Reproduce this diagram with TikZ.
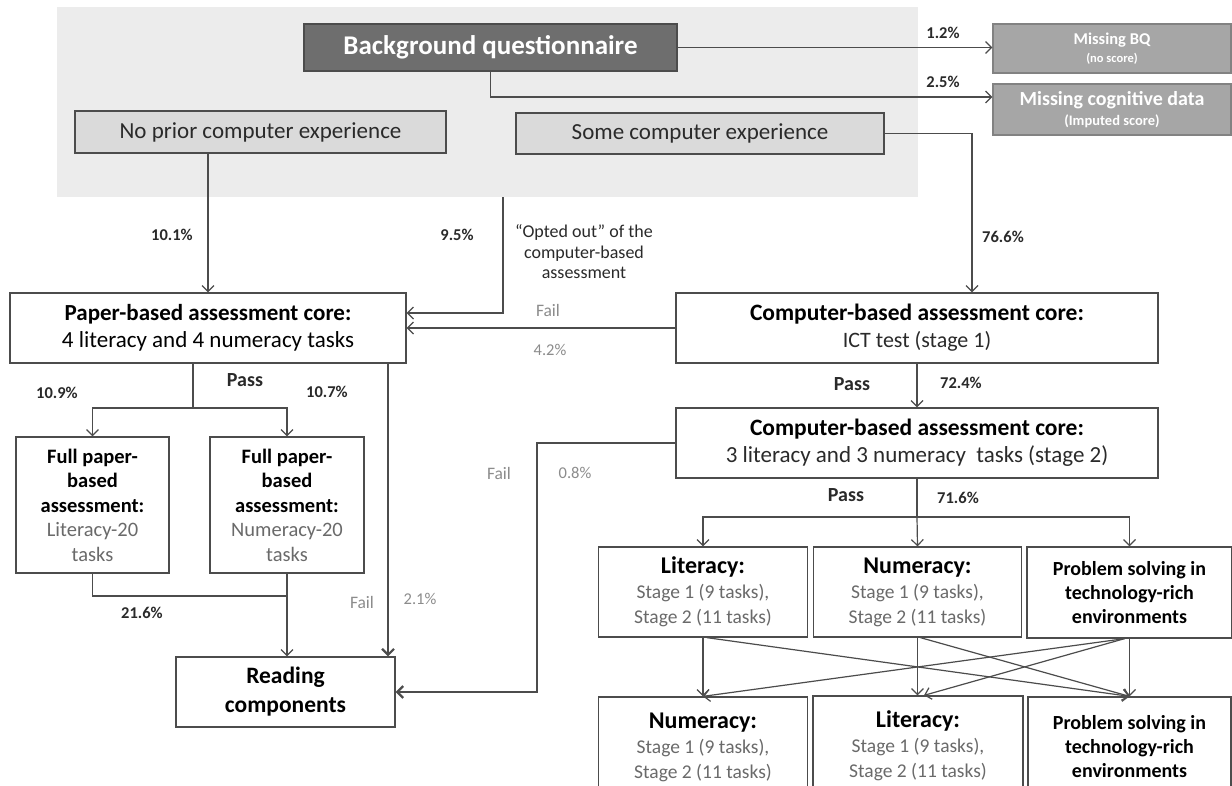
\documentclass[tikz,border=0pt]{standalone}
\usepackage{fontspec}
\setmainfont{Carlito}
\usetikzlibrary{arrows.meta}
\newcommand{\myfs}[2]{\fontsize{#1}{#2}\selectfont}
\definecolor{bgc}{HTML}{ECECEC}
\definecolor{darkc}{HTML}{6E6E6E}
\definecolor{midc}{HTML}{A6A6A6}
\definecolor{lightc}{HTML}{DADADA}
\definecolor{linec}{HTML}{4C4C4C}
\definecolor{greyt}{HTML}{6A6A6A}
\definecolor{failt}{HTML}{8C8C8C}
\definecolor{dtext}{HTML}{2A2A2A}
\tikzset{
  boxbase/.style={draw=linec, line width=1.3pt, inner sep=0pt, align=center},
  darkbox/.style={boxbase, fill=darkc, text=white, font=\bfseries\myfs{27}{30}},
  midbox/.style={boxbase, draw=linec!70, fill=midc, text=white},
  lightbox/.style={boxbase, fill=lightc, text=dtext, font=\myfs{23}{26}},
  whitebox/.style={boxbase, fill=white, text=black},
  conn/.style={draw=linec, line width=1.2pt},
  arr/.style={conn, -{Straight Barb[length=6pt,width=12pt]}},
  thickarr/.style={arr, line width=2.2pt},
  lab/.style={inner sep=0pt, font=\bfseries\myfs{16.5}{19}, text=dtext},
  faillab/.style={inner sep=0pt, font=\myfs{17.5}{20}, text=failt},
  failpct/.style={inner sep=0pt, font=\myfs{16.5}{19}, text=failt},
  passlab/.style={inner sep=0pt, font=\bfseries\myfs{20}{22}, text=dtext},
}
\begin{document}
\begin{tikzpicture}[x=1pt,y=1pt]
\clip (0,0) rectangle (1232,-785);
\fill[white] (0,0) rectangle (1232,-785);

% background panel
\node[fill=bgc, minimum width=861, minimum height=190, inner sep=0pt] (bgpanel) at (487.5,-102) {};

% top boxes
\node[darkbox, minimum width=373, minimum height=47] (bq) at (490.5,-47.5) {Background questionnaire};
\node[midbox, minimum width=238, minimum height=49, font=\bfseries\myfs{16.5}{18}] (mbq) at (1112,-48.5) {Missing BQ\\{\myfs{12.5}{18}(no score)}};
\node[midbox, minimum width=238, minimum height=51, font=\bfseries\myfs{20}{20}] (mcog) at (1112,-109.5) {Missing cognitive data\\{\myfs{14.5}{20}(Imputed score)}};
\node[lightbox, minimum width=371, minimum height=42] (noprior) at (260.5,-132) {No prior computer experience};
\node[lightbox, minimum width=368, minimum height=41] (some) at (700,-133.5) {Some computer experience};

% core boxes
\node[whitebox, minimum width=396, minimum height=70, font=\myfs{23}{27}] (paper) at (208,-328)
  {{\bfseries Paper-based assessment core:}\\4 literacy and 4 numeracy tasks};
\node[whitebox, minimum width=482, minimum height=70, font=\myfs{23.5}{27}] (cbone) at (917,-328)
  {{\bfseries Computer-based assessment core:}\\{\color{dtext}\myfs{22}{27}ICT test (stage 1)}};
\node[whitebox, minimum width=482, minimum height=70, font=\myfs{23.5}{27}] (cbtwo) at (917,-443)
  {{\bfseries Computer-based assessment core:}\\{\color{dtext}\myfs{23}{27}3 literacy and 3 numeracy\ \ tasks (stage 2)}};

% full paper boxes
\node[whitebox, minimum width=153, minimum height=136, font=\myfs{20.5}{24.5}] (fulll) at (92.5,-505)
  {{\bfseries Full paper-}\\{\bfseries based}\\{\bfseries assessment:}\\{\color{greyt}Literacy-20}\\{\color{greyt}tasks}};
\node[whitebox, minimum width=154, minimum height=136, font=\myfs{20.5}{24.5}] (fullr) at (287,-505)
  {{\bfseries Full paper-}\\{\bfseries based}\\{\bfseries assessment:}\\{\color{greyt}Numeracy-20}\\{\color{greyt}tasks}};
\node[whitebox, minimum width=219, minimum height=70, font=\bfseries\myfs{23.5}{29}] (reading) at (285.5,-692)
  {Reading\\components};

% row 1
\node[whitebox, minimum width=209, minimum height=90, font=\myfs{19.5}{25}] (ronea) at (703,-592)
  {{\bfseries\myfs{24}{25}Literacy:}\\{\color{greyt}Stage 1 (9 tasks),}\\{\color{greyt}Stage 2 (11 tasks)}};
\node[whitebox, minimum width=208, minimum height=90, font=\myfs{19.5}{25}] (roneb) at (917.5,-592)
  {{\bfseries\myfs{24}{25}Numeracy:}\\{\color{greyt}Stage 1 (9 tasks),}\\{\color{greyt}Stage 2 (11 tasks)}};
\node[whitebox, minimum width=205, minimum height=91, font=\bfseries\myfs{20}{24}] (ronec) at (1129.5,-592.5)
  {Problem solving in\\technology-rich\\environments};

% row 2
\node[whitebox, minimum width=209, minimum height=100, font=\myfs{19.5}{25}] (rtwoa) at (703,-747)
  {{\bfseries\myfs{24}{25}Numeracy:}\\{\color{greyt}Stage 1 (9 tasks),}\\{\color{greyt}Stage 2 (11 tasks)}};
\node[whitebox, minimum width=210, minimum height=100, font=\myfs{19.5}{25}] (rtwob) at (918,-746)
  {{\bfseries\myfs{24}{25}Literacy:}\\{\color{greyt}Stage 1 (9 tasks),}\\{\color{greyt}Stage 2 (11 tasks)}};
\node[whitebox, minimum width=203, minimum height=100, font=\bfseries\myfs{20}{24}] (rtwoc) at (1129.5,-747)
  {Problem solving in\\technology-rich\\environments};

% connectors top
\draw[arr] (bq.east) -- (bq.east -| mbq.west);
\node[lab] (l12) at (943,-33) {1.2\%};
\draw[arr] (bq.south) |- ([yshift=12.5pt]mcog.west);
\node[lab] (l25) at (943,-82) {2.5\%};
\draw[arr] (noprior.south -| paper.north) -- (paper.north);
\node[lab] (l101) at (172,-235) {10.1\%};
\draw[arr] (some.east) -| ([xshift=55pt]cbone.north);
\node[lab] (l766) at (1003,-237) {76.6\%};
\coordinate (optx) at (503,-197);
\draw[arr] (optx) |- ([yshift=15pt]paper.east);
\node[lab] (l95) at (457,-235) {9.5\%};
\node[inner sep=0pt, align=center, font=\myfs{18}{20.5}, text=dtext] (opted) at (584,-252)
  {``Opted out'' of the\\computer-based\\assessment};
\draw[arr] (cbone.west) -- (paper.east);
\node[faillab] (fail1) at (548,-310) {Fail};
\node[failpct] (p42) at (550,-350) {4.2\%};
\draw[arr] (cbone.south) -- (cbtwo.north);
\node[passlab] (pass1) at (852,-384) {Pass};
\node[lab] (l724) at (961,-383) {72.4\%};

% paper branch
\coordinate (pb) at (193,-408);
\draw[conn] (paper.south -| pb) -- (pb);
\draw[arr] (pb) -| (fulll.north);
\draw[arr] (pb) -| (fullr.north);
\node[passlab] (pass2) at (245,-380) {Pass};
\node[lab] (l109) at (57,-393) {10.9\%};
\node[lab] (l107) at (327,-392) {10.7\%};

\coordinate (fj) at (287,-596);
\draw[conn] (fulll.south) |- (fj);
\draw[arr] (fullr.south) -- (fullr.south |- reading.north);
\node[lab] (l216) at (142,-613) {21.6\%};

\coordinate (pf) at (388,-363);
\draw[thickarr] (pf) -- (pf |- reading.north);
\node[faillab] (fail2) at (362,-602) {Fail};
\node[failpct] (p21) at (420,-599) {2.1\%};

\coordinate (cf) at (537,-443);
\draw[thickarr] (cbtwo.west) -- (cf) |- (reading.east);
\node[faillab] (fail3) at (499,-473) {Fail};
\node[failpct] (p08) at (575,-473) {0.8\%};

% cb2 branch
\coordinate (cb) at (917,-517);
\draw[conn] (cbtwo.south) -- (cb);
\draw[arr] (cb) -| (ronea.north);
\draw[arr] (cb) -- (roneb.north);
\draw[arr] (cb) -| (ronec.north);
\node[passlab] (pass3) at (846,-495) {Pass};
\node[lab] (l716) at (958,-498) {71.6\%};

% crossing arrows
\draw[arr] (ronea.south) -- (rtwoa.north);
\draw[arr] ([xshift=4pt]ronea.south) -- (rtwoc.north);
\draw[arr] (roneb.south) -- ([xshift=-0.5pt]rtwob.north);
\draw[arr] ([xshift=3pt]roneb.south) -- (rtwoc.north);
\draw[arr] (ronec.south) -- (rtwoc.north);
\draw[arr] ([xshift=-5pt]ronec.south) -- (rtwoa.north);
\draw[arr] ([xshift=-5pt]ronec.south) -- ([xshift=6pt]rtwob.north);
\end{tikzpicture}
\end{document}
